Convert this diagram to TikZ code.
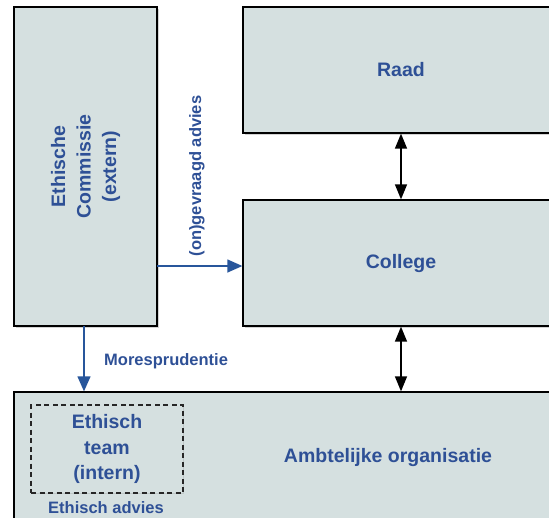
\documentclass[tikz,border=0pt]{standalone}
\usepackage{fontspec}
\setmainfont{Liberation Sans}
\usetikzlibrary{arrows.meta,shadows}
\definecolor{boxfill}{RGB}{213,224,224}
\definecolor{txtblue}{RGB}{46,80,150}
\definecolor{arrblue}{RGB}{40,86,155}
\tikzset{
  orgbox/.style={draw=black, line width=1.3pt, fill=boxfill, inner sep=0pt,
    drop shadow={shadow xshift=1.5pt, shadow yshift=-1.5pt, opacity=0.35, fill=gray}},
  bigtxt/.style={text=txtblue, font=\bfseries\fontsize{19.5}{25.5}\selectfont, align=center},
  smalltxt/.style={text=txtblue, font=\bfseries\fontsize{16.5}{20}\selectfont, align=center, inner sep=0pt},
  blackarr/.style={line width=1.4pt, black, {Triangle[length=15pt,width=12pt]}-{Triangle[length=15pt,width=12pt]}},
  bluearr/.style={line width=1.3pt, arrblue, -{Triangle[length=15pt,width=13pt]}},
  dashbox/.style={draw=black!85, line width=1.5pt, dash pattern=on 5pt off 3.5pt, fill=boxfill,
    drop shadow={shadow xshift=1.2pt, shadow yshift=-1.2pt, opacity=0.25, fill=gray}}
}
\begin{document}
\begin{tikzpicture}[x=1pt,y=-1pt]
\useasboundingbox (0,0) rectangle (549,517);
\clip (0,0) rectangle (549,517);
% boxes
\node[orgbox, minimum width=143pt, minimum height=319pt] (ec) at (85.5,166.5) {};
\node[bigtxt, rotate=90] (ectxt) at (85.5,166.5) {Ethische\\Commissie\\(extern)};
\node[orgbox, minimum width=316pt, minimum height=126pt] (raad) at (401,70) {};
\node[bigtxt] (raadtxt) at (401,70) {Raad};
\node[orgbox, minimum width=316pt, minimum height=126pt] (college) at (401,263) {};
\node[bigtxt] (coltxt) at (401,263) {College};
\node[orgbox, minimum width=560pt, minimum height=150pt] (amb) at (294,467) {};
\node[bigtxt] (ambtxt) at (388,457) {Ambtelijke organisatie};
\node[dashbox, minimum width=152pt, minimum height=88pt] (team) at (107,449) {};
\node[bigtxt] (teamtxt) at (107,449) {Ethisch\\team\\(intern)};
\node[smalltxt] (advies) at (106,508) {Ethisch advies};
% connectors
\draw[blackarr] (raad.south) -- (college.north);
\draw[blackarr] (college.south) -- (amb.north -| college.south);
\coordinate (gv) at (157,266);
\draw[bluearr] (gv) -- (college.west |- gv);
\coordinate (mp) at (84,326);
\draw[bluearr] (mp) -- (amb.north -| mp);
\node[smalltxt, rotate=90] (gvtxt) at (197,176) {(on)gevraagd advies};
\node[smalltxt, anchor=west] (mptxt) at (104,361) {Moresprudentie};
\end{tikzpicture}
\end{document}
